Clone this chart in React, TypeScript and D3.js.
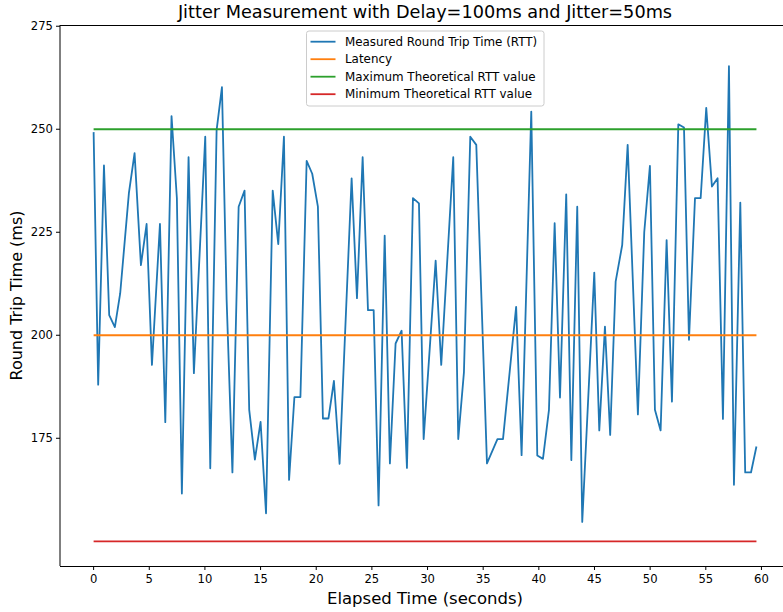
import React from "react";
import * as d3 from "d3";

const title = "Jitter Measurement with Delay=100ms and Jitter=50ms";
const xLabel = "Elapsed Time (seconds)";
const yLabel = "Round Trip Time (ms)";

const elapsed = [0, 0.41, 0.93, 1.4, 1.91, 2.39, 3.17, 3.68, 4.25, 4.76, 5.24, 5.96, 6.44, 7.0, 7.48, 7.93, 8.53, 9.01, 10.03, 10.48, 11.05, 11.53, 11.95, 12.47, 13.03, 13.56, 13.98, 14.49, 15.0, 15.49, 16.09, 16.59, 17.1, 17.56, 18.04, 18.58, 19.14, 19.64, 20.15, 20.6, 21.1, 21.59, 22.1, 23.18, 23.66, 24.17, 24.65, 25.16, 25.6, 26.15, 26.62, 27.13, 27.67, 28.15, 28.69, 29.23, 29.65, 30.73, 31.23, 32.31, 32.76, 33.27, 33.84, 34.38, 35.34, 36.28, 36.78, 37.96, 38.45, 39.32, 39.86, 40.37, 40.91, 41.42, 41.9, 42.46, 42.92, 43.45, 43.9, 44.3, 44.98, 45.43, 45.94, 46.41, 46.9, 47.49, 47.98, 48.9, 49.47, 49.98, 50.43, 50.94, 51.48, 51.96, 52.53, 53.04, 53.49, 54.03, 54.54, 55.04, 55.55, 56.06, 56.54, 57.08, 57.53, 58.1, 58.54, 59.06, 59.55];

const rtt = [249.3, 188.0, 241.2, 204.9, 202.0, 210.2, 234.5, 244.2, 217.0, 227.0, 192.8, 227.0, 178.9, 253.2, 233.3, 161.6, 243.2, 190.8, 248.2, 167.7, 249.8, 260.2, 208.6, 166.7, 231.2, 235.1, 181.9, 169.8, 179.0, 156.8, 235.1, 222.1, 248.2, 164.9, 185.0, 185.0, 242.3, 239.2, 231.2, 179.8, 179.8, 188.9, 168.8, 238.1, 209.0, 243.2, 206.1, 206.1, 158.7, 224.2, 168.9, 198.0, 201.1, 167.8, 233.3, 232.0, 174.8, 218.1, 192.8, 243.2, 174.8, 191.0, 248.2, 246.2, 168.9, 174.8, 174.8, 206.9, 170.9, 254.3, 170.8, 170.0, 181.9, 227.2, 184.9, 234.2, 169.7, 231.2, 154.7, 177.0, 215.2, 176.9, 202.1, 175.8, 213.0, 221.9, 246.2, 180.8, 225.0, 241.1, 181.9, 176.9, 223.1, 183.9, 251.2, 250.4, 198.9, 233.3, 233.3, 255.2, 236.1, 238.1, 179.7, 265.3, 163.7, 232.2, 166.7, 166.7, 173.0];

const latency = 200;
const maxRtt = 250;
const minRtt = 150;

const xTicks = [0, 5, 10, 15, 20, 25, 30, 35, 40, 45, 50, 55, 60];
const yTicks = [175, 200, 225, 250, 275];

const seriesNames = [
  "Measured Round Trip Time (RTT)",
  "Latency",
  "Maximum Theoretical RTT value",
  "Minimum Theoretical RTT value",
];
const seriesColors = ["#1f77b4", "#ff7f0e", "#2ca02c", "#d62728"];

const W = 783;
const H = 612;
const plot = { left: 60, right: 789, top: 25, bottom: 566 };
const font = "'DejaVu Sans', sans-serif";

export default function App() {
  const x = d3.scaleLinear().domain([-2.975, 62.475]).range([plot.left + 0.5, plot.right]);
  const y = d3.scaleLinear().domain([144.0, 275.3]).range([plot.bottom, plot.top]);

  const pts: [number, number][] = elapsed.map((t, i) => [t, rtt[i]]);
  const line = d3
    .line<[number, number]>()
    .x((d) => x(d[0]))
    .y((d) => y(d[1]));

  const t0 = elapsed[0];
  const t1 = elapsed[elapsed.length - 1];
  const hLines = [latency, maxRtt, minRtt];

  const legendX = 306.5;
  const legendY = 31;
  const rowH = 17.5;

  return (
    <svg width={W} height={H} style={{ position: "absolute", left: 0, top: 0 }} xmlns="http://www.w3.org/2000/svg">
      <rect x={0} y={0} width={W} height={H} fill="#fff" />
      <defs>
        <clipPath id="plotclip">
          <rect x={plot.left} y={plot.top} width={plot.right - plot.left} height={plot.bottom - plot.top} />
        </clipPath>
      </defs>
      <g clipPath="url(#plotclip)">
        <path d={line(pts) || ""} fill="none" stroke={seriesColors[0]} strokeWidth={1.8} strokeLinejoin="round" />
        {hLines.map((v, i) => (
          <line key={i} x1={x(t0)} x2={x(t1)} y1={y(v)} y2={y(v)} stroke={seriesColors[i + 1]} strokeWidth={1.8} />
        ))}
      </g>
      <line x1={plot.left} x2={plot.left} y1={plot.top} y2={plot.bottom} stroke="#000" strokeWidth={1} />
      <line x1={plot.left} x2={W} y1={plot.top + 0.5} y2={plot.top + 0.5} stroke="#000" strokeWidth={1} />
      <line x1={plot.left} x2={W} y1={plot.bottom + 0.5} y2={plot.bottom + 0.5} stroke="#000" strokeWidth={1} />
      {xTicks.map((t) => (
        <g key={t}>
          <line x1={x(t)} x2={x(t)} y1={plot.bottom} y2={plot.bottom + 4} stroke="#000" strokeWidth={1} />
          <text x={x(t)} y={plot.bottom + 17} fontFamily={font} fontSize={11.6} textAnchor="middle" fill="#000">
            {t}
          </text>
        </g>
      ))}
      {yTicks.map((v) => (
        <g key={v}>
          <line x1={plot.left - 4} x2={plot.left} y1={y(v)} y2={y(v)} stroke="#000" strokeWidth={1} />
          <text x={plot.left - 7} y={y(v)} dy="0.36em" fontFamily={font} fontSize={11.6} textAnchor="end" fill="#000">
            {v}
          </text>
        </g>
      ))}
      <text x={425} y={604} fontFamily={font} fontSize={16.5} textAnchor="middle" fill="#000">
        {xLabel}
      </text>
      <text
        transform={`translate(22, ${(plot.top + plot.bottom) / 2}) rotate(-90)`}
        fontFamily={font}
        fontSize={16}
        textAnchor="middle"
        fill="#000"
      >
        {yLabel}
      </text>
      <text x={425} y={18} fontFamily={font} fontSize={17.7} textAnchor="middle" fill="#000">
        {title}
      </text>
      <rect x={legendX} y={legendY} width={237.5} height={75} rx={2.5} fill="#fff" fillOpacity={0.8} stroke="#cccccc" strokeWidth={1} />
      {seriesNames.map((name, i) => {
        const cy = legendY + 10.7 + i * rowH;
        return (
          <g key={name}>
            <line x1={legendX + 4} x2={legendX + 29} y1={cy} y2={cy} stroke={seriesColors[i]} strokeWidth={1.8} />
            <text x={legendX + 38.5} y={cy} dy="0.36em" fontFamily={font} fontSize={11.9} fill="#000">
              {name}
            </text>
          </g>
        );
      })}
    </svg>
  );
}
